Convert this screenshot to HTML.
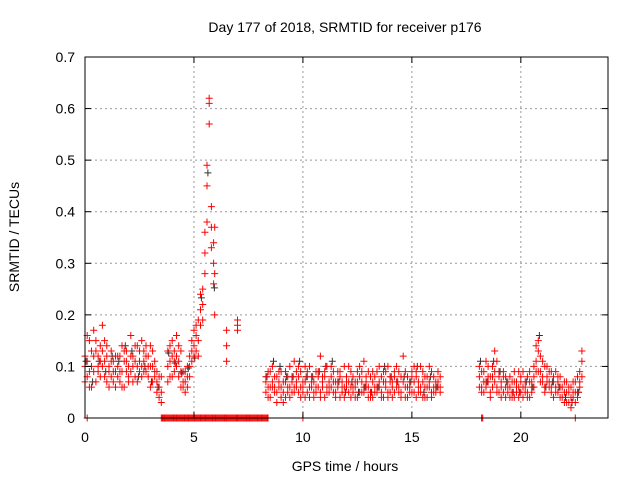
<!DOCTYPE html>
<html><head><meta charset="utf-8"><style>
html,body{margin:0;padding:0;background:#fff}
svg{display:block;font-family:"Liberation Sans",sans-serif}
</style></head><body>
<svg id="chart" width="640" height="480">
<rect width="640" height="480" fill="#fff"/>
<g id="grid"></g>
<g id="pts"></g>
<rect x="85" y="57" width="523" height="361" fill="none" stroke="#000" stroke-width="1"/>
<g id="ticks"></g>
<text x="345" y="32" text-anchor="middle" font-size="14">Day 177 of 2018, SRMTID for receiver p176</text>
<text x="345" y="471" text-anchor="middle" font-size="14">GPS time / hours</text>
<text x="0" y="0" transform="translate(19,237) rotate(-90)" text-anchor="middle" font-size="14">SRMTID / TECUs</text>
</svg>
<script>
const xTicks=[0,5,10,15,20];
const yTicks=[0,0.1,0.2,0.3,0.4,0.5,0.6,0.7];
const yTickLabels=["0","0.1","0.2","0.3","0.4","0.5","0.6","0.7"];
const seg1Start=0.0, seg2Times=[3.8,3.9,4.0,4.1,4.2,4.3,4.4,4.5,4.6,4.7,4.8,4.9,5.0,5.1,5.2,5.3,5.4,5.5,5.6,5.7,5.8,5.9,5.95];
const seg1A=[0.12,0.08,0.15,0.10,0.17,0.13,0.09,0.14,0.18,0.11,0.07,0.10,0.13,0.09,0.06,0.08,0.12,0.14,0.11,0.09,0.10,0.16,0.12,0.08,0.10,0.13,0.15,0.11,0.09,0.12,0.14,0.10,0.08,0.07,0.06,0.05];
const seg1B=[0.07,0.11,0.06,0.13,0.09,0.07,0.12,0.08,0.10,0.15,0.12,0.06,0.08,0.11,0.09,0.12,0.07,0.09,0.06,0.13,0.08,0.09,0.07,0.11,0.14,0.09,0.10,0.13,0.12,0.08,0.10,0.07,0.11,0.09,0.04,0.08];
const seg1C=[0.10,0.16,0.09,0.06,0.12,0.15,0.10,0.11,0.13,0.08,0.14,0.09,0.11,0.07,0.12,0.10,0.09,0.06,0.13,0.11,0.07,0.12,0.10,0.14,0.07,0.11,0.08,0.09,0.14,0.10,0.06,0.13,0.09,0.05,0.08,0.03];
const seg2A=[0.10,0.14,0.12,0.09,0.16,0.11,0.13,0.07,0.05,0.08,0.10,0.15,0.17,0.13,0.19,0.21,0.25,0.32,0.45,0.61,0.41,0.34,0.28];
const seg2B=[0.07,0.11,0.08,0.13,0.10,0.08,0.06,0.09,0.07,0.06,0.12,0.11,0.14,0.18,0.15,0.18,0.22,0.28,0.38,0.57,0.37,0.30,0.20];
const seg2C=[0.13,0.08,0.15,0.11,0.12,0.14,0.09,0.06,0.09,0.10,0.08,0.13,0.12,0.16,0.12,0.24,0.19,0.36,0.49,0.62,0.33,0.26,0.37];
const sparseTimes=[6.5,6.5,6.5,7.0,7.0,7.0];
const sparseVals=[0.17,0.14,0.11,0.18,0.17,0.19];
const seg3Start=8.3;
const seg3A=[0.08,0.06,0.09,0.07,0.05,0.08,0.06,0.04,0.07,0.09,0.05,0.06,0.08,0.11,0.07,0.05,0.09,0.06,0.04,0.08,0.10,0.06,0.07,0.05,0.09,0.12,0.06,0.08,0.05,0.07,0.06,0.09,0.04,0.07,0.08,0.05,0.10,0.06,0.07,0.04,0.08,0.06,0.09,0.05,0.07,0.11,0.06,0.04,0.08,0.07,0.05,0.09,0.06,0.08,0.04,0.07,0.10,0.05,0.06,0.09,0.07,0.05,0.08,0.12,0.06,0.04,0.07,0.09,0.05,0.08,0.06,0.10,0.07,0.04,0.08,0.06,0.09,0.05,0.07,0.06,0.08];
const seg3B=[0.05,0.09,0.04,0.06,0.08,0.03,0.07,0.09,0.05,0.04,0.08,0.10,0.05,0.06,0.09,0.08,0.04,0.07,0.10,0.05,0.06,0.08,0.04,0.09,0.06,0.05,0.08,0.04,0.10,0.06,0.08,0.05,0.07,0.09,0.04,0.07,0.06,0.08,0.05,0.09,0.06,0.04,0.07,0.10,0.05,0.06,0.08,0.09,0.05,0.04,0.08,0.06,0.10,0.05,0.07,0.09,0.04,0.08,0.07,0.05,0.10,0.06,0.04,0.07,0.09,0.06,0.05,0.08,0.10,0.04,0.07,0.05,0.09,0.06,0.04,0.10,0.05,0.08,0.06,0.09,0.05];
const seg3C=[0.07,0.04,0.06,0.10,0.06,0.05,0.09,0.06,0.03,0.07,0.06,0.04,0.07,0.05,0.06,0.10,0.06,0.05,0.07,0.09,0.04,0.07,0.05,0.06,0.08,0.04,0.07,0.09,0.06,0.05,0.10,0.07,0.05,0.06,0.09,0.06,0.04,0.07,0.10,0.06,0.05,0.07,0.04,0.08,0.09,0.05,0.07,0.06,0.04,0.09,0.06,0.05,0.07,0.04,0.09,0.06,0.05,0.07,0.04,0.08,0.06,0.09,0.05,0.07,0.04,0.08,0.06,0.05,0.07,0.09,0.05,0.06,0.04,0.08,0.06,0.07,0.04,0.06,0.05,0.07,0.06];
const seg4Start=18.1;
const seg4A=[0.08,0.06,0.09,0.11,0.07,0.05,0.08,0.13,0.06,0.09,0.07,0.05,0.08,0.06,0.04,0.07,0.09,0.05,0.06,0.08,0.04,0.07,0.05,0.09,0.06,0.08,0.11,0.13,0.09,0.07,0.10,0.08,0.06,0.09,0.07,0.05,0.08,0.06,0.04,0.07,0.05,0.03,0.06,0.04,0.07,0.05,0.09,0.11];
const seg4B=[0.06,0.09,0.05,0.07,0.10,0.08,0.06,0.09,0.11,0.05,0.06,0.08,0.04,0.07,0.06,0.05,0.04,0.07,0.09,0.05,0.06,0.05,0.08,0.04,0.07,0.10,0.14,0.09,0.12,0.08,0.06,0.07,0.09,0.05,0.08,0.06,0.07,0.04,0.06,0.05,0.03,0.06,0.04,0.05,0.03,0.08,0.06,0.13];
const seg4C=[0.10,0.05,0.07,0.06,0.08,0.04,0.10,0.07,0.05,0.08,0.04,0.09,0.06,0.05,0.08,0.04,0.07,0.06,0.04,0.07,0.09,0.06,0.04,0.07,0.05,0.06,0.09,0.15,0.07,0.11,0.05,0.10,0.07,0.06,0.04,0.09,0.05,0.08,0.06,0.03,0.07,0.05,0.02,0.07,0.05,0.04,0.07,0.08];
const zeroRange=[3.5,8.4];
const zeroSingles=[0.1,10.0,18.2,18.25,22.5];

const NS="http://www.w3.org/2000/svg";
const X0=85,X1=608,Y0=418,Y1=57,XMAX=24,YMAX=0.7;
function sx(t){return X0+(t/XMAX)*(X1-X0);}
function sy(v){return Y0-(v/YMAX)*(Y0-Y1);}
function mk(tag,attrs,parent){const e=document.createElementNS(NS,tag);for(const k in attrs)e.setAttribute(k,attrs[k]);parent.appendChild(e);return e;}
const grid=document.getElementById('grid'),ticks=document.getElementById('ticks'),pts=document.getElementById('pts');
xTicks.forEach(t=>{const x=sx(t);
 if(t>0){const g=mk('line',{x1:x,y1:Y0,x2:x,y2:Y1,stroke:'#999','stroke-dasharray':'2,3'},grid);
 
 }
 mk('line',{x1:x,y1:Y0,x2:x,y2:Y0-6,stroke:'#000'},ticks);mk('line',{x1:x,y1:Y1,x2:x,y2:Y1+6,stroke:'#000'},ticks);
 const l=mk('text',{x:x,y:Y0+24,'text-anchor':'middle','font-size':14},ticks);l.textContent=t;
 
 });
yTicks.forEach((v,i)=>{const y=sy(v);
 if(i>0&&i<yTicks.length-1){const g=mk('line',{x1:X0,y1:y,x2:X1,y2:y,stroke:'#999','stroke-dasharray':'2,3'},grid);
 
 }
 mk('line',{x1:X0,y1:y,x2:X0+6,y2:y,stroke:'#000'},ticks);mk('line',{x1:X1,y1:y,x2:X1-6,y2:y,stroke:'#000'},ticks);
 const l=mk('text',{x:X0-10,y:y+5,'text-anchor':'end','font-size':14},ticks);l.textContent=yTickLabels[i];
 
 });
let d={red:'',dark:''};
function cross(t,v,c){const x=sx(t),y=sy(v);d[c]+=`M${(x-3.5).toFixed(1)} ${y.toFixed(1)}h7M${x.toFixed(1)} ${(y-3.5).toFixed(1)}v7`;}
function seg(start,arrs){arrs.forEach(a=>a.forEach((v,i)=>cross(start+i*0.1,v,'red')));}
[[seg1Start,seg1C],[seg3Start,seg3C],[seg4Start,seg4C]].forEach(([s,a])=>a.forEach((v,i)=>{if(i%3===0)cross(s+i*0.1+0.05,v+0.01,'dark');}));
seg2C.forEach((v,i)=>{if(i%3===0)cross(seg2Times[i]+0.04,v*0.97,'dark');});
seg(seg1Start,[seg1A,seg1B,seg1C]);seg(seg3Start,[seg3A,seg3B,seg3C]);seg(seg4Start,[seg4A,seg4B,seg4C]);
[seg2A,seg2B,seg2C].forEach(a=>a.forEach((v,i)=>cross(seg2Times[i],v,'red')));
sparseVals.forEach((v,i)=>cross(sparseTimes[i],v,'red'));
for(let t=zeroRange[0];t<=zeroRange[1];t+=0.05)cross(t,0,'red');
zeroSingles.forEach(t=>cross(t,0,'red'));
const pd=mk('path',{d:d.dark,stroke:'#333',fill:'none','stroke-width':1},pts);


const pr=mk('path',{d:d.red,stroke:'#f00',fill:'none','stroke-width':1},pts);


</script>
</body></html>
